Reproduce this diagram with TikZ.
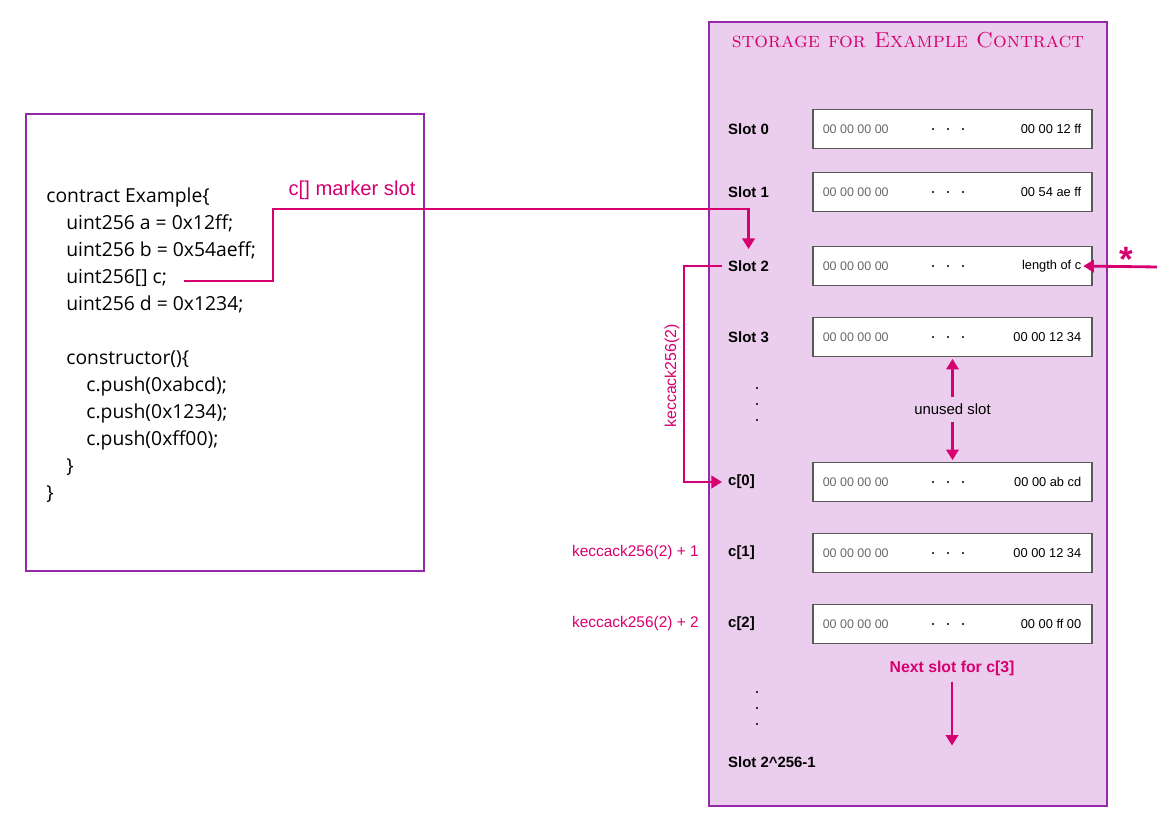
\documentclass[tikz,border=0pt]{standalone}
\usepackage{fontspec}
\setsansfont{Liberation Sans}
\renewcommand{\familydefault}{\sfdefault}
\newfontfamily\codefont{Open Sans}
\usetikzlibrary{positioning,arrows.meta,calc}

\definecolor{boxpurple}{RGB}{150,40,170}
\definecolor{lavender}{RGB}{235,206,237}
\definecolor{hotpink}{RGB}{214,0,112}
\definecolor{hexgray}{RGB}{105,105,105}

\tikzset{
  >={Triangle[length=6pt,width=7pt]},
  slotbox/.style={draw=black!65, fill=white, line width=0.7pt, minimum width=5.58cm, minimum height=0.78cm, inner sep=0},
  slotlabel/.style={font=\fontsize{8.5}{10}\selectfont\bfseries, anchor=west},
  zeros/.style={font=\fontsize{7.1}{8}\selectfont, text=hexgray, anchor=west, inner sep=0},
  hexval/.style={font=\fontsize{7.3}{8}\selectfont, anchor=east, inner sep=0},
  pinkline/.style={draw=hotpink, line width=1.6pt, ->},
  pinktext/.style={text=hotpink, font=\fontsize{8.8}{10}\selectfont},
  codeline/.style={font=\codefont\fontsize{11}{13}\selectfont, anchor=base west, inner sep=0},
}

\begin{document}
\begin{tikzpicture}[x=0.02cm, y=-0.02cm]
  \useasboundingbox (0,0) rectangle (1161,820);
  % source of the contract
  \draw[boxpurple, line width=1.1pt] (26,114) rectangle (424,571);
  \foreach \y/\x/\t [count=\i] in {203/46/contract Example\{, 230/66/uint256 a = 0x12ff;,
      257/66/uint256 b = 0x54aeff;, 284/66/uint256[] c;, 311/66/uint256 d = 0x1234;,
      365/66/constructor()\{, 392/86/c.push(0xabcd);, 419/86/c.push(0x1234);,
      446/86/c.push(0xff00);, 473/66/\}, 500/46/\}}
    \node[codeline] (code\i) at (\x,\y) {\t};

  % storage of the contract
  \draw[boxpurple, fill=lavender, line width=1.1pt] (709,22) rectangle (1107,806);
  \node[text=hotpink, font=\rmfamily\fontsize{12.3}{14}\selectfont] (title) at (908,40) {\textsc{storage for Example Contract}};

  \foreach \y/\n/\lab/\val in {129/s0/Slot 0/00 00 12 ff, 192/s1/Slot 1/00 54 ae ff,
      266/s2/Slot 2/length of c, 337/s3/Slot 3/00 00 12 34, 482/c0/c[0]/00 00 ab cd,
      553/c1/c[1]/00 00 12 34, 624/c2/c[2]/00 00 ff 00} {
    \node[slotlabel] (L\n) at (722,\y) {\lab};
    \node[slotbox] (\n) at (952.5,\y) {};
    \node[zeros] (Z\n) at ([xshift=10*0.02cm]\n.west) {00 00 00 00};
    \node[hexval] (V\n) at ([xshift=-11*0.02cm]\n.east) {\val};
    \foreach \dx in {-19.5,-4.5,10.5}
      \fill ($(\n.center)+(\dx,0)$) circle (1.2);
  }
  \node[slotlabel] (Llast) at (722,762) {Slot 2\textasciicircum 256-1};
  \foreach \y in {388,404,420,692,708,724}
    \fill (757,\y) circle (1.2);

  % c[] marker slot
  \coordinate (cend) at (184,281);
  \coordinate (mk) at (273,209);
  \node[pinktext, font=\fontsize{11.5}{13}\selectfont] (mklabel) at (352,190) {c[] marker slot};
  \draw[pinkline, shorten >=3pt] (cend) -| (mk) -| (Ls2.north);

  % length of c
  \node[text=hotpink, font=\fontsize{20}{20}\selectfont\bfseries] (star) at (1126,259) {*};
  \coordinate (lenfrom) at (1157,267);
  \draw[pinkline, shorten >=1pt] (lenfrom) -- (Vs2.east);

  % keccak of slot 2
  \draw[pinkline] (Ls2.west) -- ++(-38,0) |- (Lc0.west);
  \node[pinktext, font=\fontsize{9}{10}\selectfont, rotate=90] (k0) at (672,376) {keccack256(2)};
  \node[pinktext, anchor=east] (k1) at (705,553) {keccack256(2) + 1};
  \node[pinktext, anchor=east] (k2) at (705,624) {keccack256(2) + 2};

  % unused slot
  \draw[pinkline, <->, shorten <=1pt, shorten >=1pt] (s3.south) -- (c0.north)
    node[midway, fill=lavender, text=black, font=\fontsize{8.5}{10}\selectfont, inner sep=4pt] (unused) {unused slot};

  % next slot
  \node[pinktext, font=\fontsize{9}{11}\selectfont\bfseries] (next) at (952,668) {Next slot for c[3]};
  \coordinate (nextend) at ($(next.south)+(0,64)$);
  \draw[pinkline] (next.south) -- (nextend);
\end{tikzpicture}
\end{document}
